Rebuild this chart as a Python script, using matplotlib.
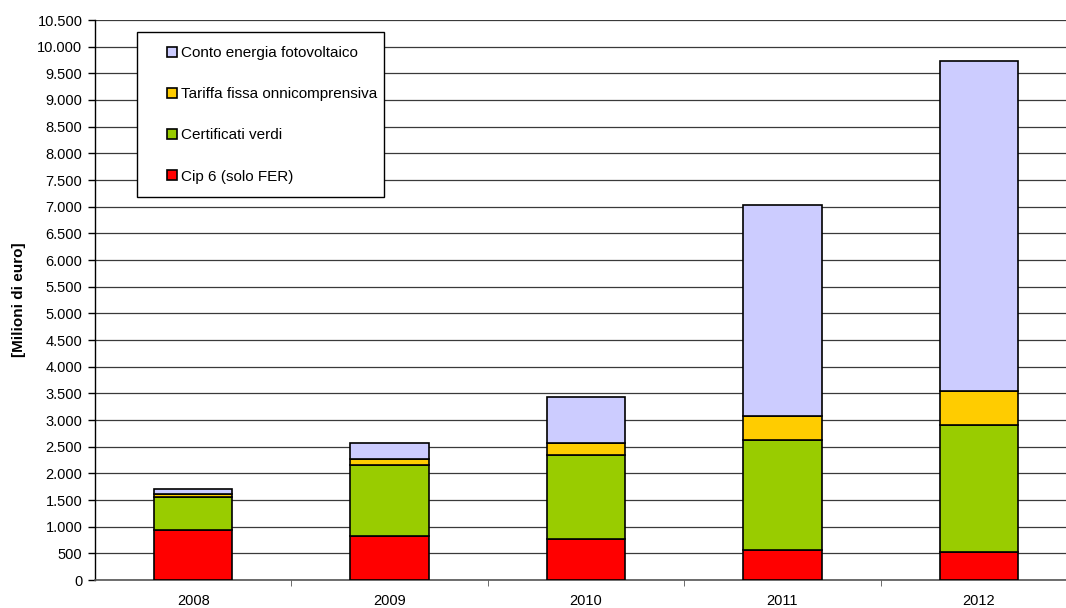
"""Incentivi alle fonti rinnovabili: costo annuo per meccanismo."""

import matplotlib

matplotlib.use("Agg")
import numpy as np
from matplotlib import pyplot as plt
from matplotlib.patches import Rectangle
from matplotlib.ticker import FuncFormatter, MultipleLocator

# ---------------------------------------------------------------------------
# Dati [milioni di euro]
# ---------------------------------------------------------------------------

anni = ["2008", "2009", "2010", "2011", "2012"]

cip6 = [940, 820, 775, 556, 525]
certificati_verdi = [625, 1330, 1575, 2063, 2372]
tariffa_fissa = [40, 113, 225, 462, 654]
conto_energia = [110, 312, 850, 3950, 6182]

serie = [
    ("Cip 6 (solo FER)", cip6, "#ff0000"),
    ("Certificati verdi", certificati_verdi, "#99cc00"),
    ("Tariffa fissa onnicomprensiva", tariffa_fissa, "#ffcc00"),
    ("Conto energia fotovoltaico", conto_energia, "#ccccff"),
]

# ---------------------------------------------------------------------------
# Grafico
# ---------------------------------------------------------------------------

W, H = 1066, 608

plt.rcParams["font.family"] = ["Liberation Sans", "DejaVu Sans"]
plt.rcParams["font.size"] = 10.5

fig = plt.figure(figsize=(W / 100, H / 100), dpi=100)
ax = fig.add_axes([95 / W, 28 / H, 982 / W, 560 / H])

x = np.arange(len(anni))
base = np.zeros(len(anni))
for nome, valori, colore in serie:
    ax.bar(
        x,
        valori,
        bottom=base,
        width=0.40,
        color=colore,
        edgecolor="black",
        linewidth=1.2,
        label=nome,
        zorder=3,
    )
    base += np.array(valori)

ax.set_xlim(-0.5, len(anni) - 0.5)
ax.set_ylim(0, 10500)

ax.yaxis.set_major_locator(MultipleLocator(500))
ax.yaxis.set_major_formatter(
    FuncFormatter(lambda v, _: f"{int(v):,}".replace(",", "."))
)
ax.grid(axis="y", color="#3a3a3a", linewidth=0.9, zorder=0)

ax.set_xticks(x)
ax.set_xticklabels(anni)
ax.set_xticks(np.arange(0.5, len(anni) - 0.5, 1.0), minor=True)
ax.tick_params(axis="x", which="major", length=0, pad=10)
ax.tick_params(axis="x", which="minor", length=4, color="#555555")
ax.tick_params(axis="y", length=5, width=1, pad=4)

for side in ["top", "right"]:
    ax.spines[side].set_visible(False)
ax.spines["left"].set_linewidth(1.0)
ax.spines["bottom"].set_color("#555555")
ax.spines["bottom"].set_linewidth(1.2)

ax.set_ylabel("[Milioni di euro]", fontweight="bold", fontsize=11, labelpad=8)

# riquadro della legenda disegnato a parte, per avere il margine sinistro largo
fig.patches.append(
    Rectangle(
        (137 / W, 1 - 197 / H),
        247 / W,
        165 / H,
        transform=fig.transFigure,
        facecolor="white",
        edgecolor="black",
        linewidth=1.0,
        zorder=4,
    )
)

handles, labels = ax.get_legend_handles_labels()
leg = fig.legend(
    handles[::-1],
    labels[::-1],
    loc="upper left",
    bbox_to_anchor=(167 / W, 1 - 46 / H),
    bbox_transform=fig.transFigure,
    frameon=False,
    fontsize=11,
    handlelength=0.65,
    handleheight=0.65,
    handletextpad=0.25,
    labelspacing=1.78,
    borderpad=0.0,
    borderaxespad=0,
)
leg.set_zorder(5)

fig.savefig("out.png", dpi=100)
plt.close(fig)
